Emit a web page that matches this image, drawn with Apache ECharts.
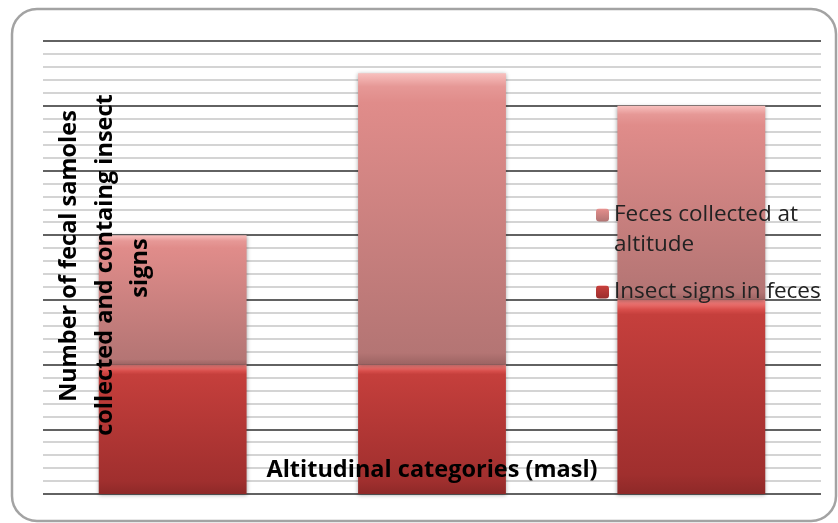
<!DOCTYPE html>
<html>
<head>
<meta charset="utf-8">
<script src="https://cdn.jsdelivr.net/npm/echarts@6/dist/echarts.min.js"></script>
<style>html,body{margin:0;padding:0;background:#fff}#c{width:838px;height:523px}</style>
</head>
<body>
<div id="c"></div>
<script>
var categories = ['Low altitude', 'Middle altitude', 'High altitude'];
var fecesCollected = [20, 32.5, 30];
var insectSigns = [10, 10, 15];
var seriesNames = ['Feces collected at altitude', 'Insect signs in feces'];
var yTitleLines = ['Number of fecal samoles', 'collected and containg insect', 'signs'];
var xTitle = 'Altitudinal categories (masl)';

var fecesRest = fecesCollected.map(function (v, i) { return v - insectSigns[i]; });

function grad(stops) {
  return new echarts.graphic.LinearGradient(0, 0, 0, 1, stops.map(function (s) { return { offset: s[0], color: s[1] }; }));
}

var titleFont = { fontFamily: 'Open Sans', fontWeight: 'bold', fontSize: 23.5, fill: '#000', align: 'center', verticalAlign: 'middle' };
function t(text, x, y, rot) {
  return { type: 'text', z: 100, x: x, y: y, rotation: rot || 0,
    style: Object.assign({ text: text }, titleFont) };
}

var chart = echarts.init(document.getElementById('c'), null, { renderer: 'canvas' });
var option = {
  animation: false,
  backgroundColor: '#fff',
  grid: { left: 43, right: 17, top: 41, bottom: 29 },
  legend: {
    orient: 'vertical',
    left: 591, top: 165,
    itemWidth: 13, itemHeight: 13, itemGap: 17,
    data: [seriesNames[0], seriesNames[1]],
    formatter: function (n) { return n === seriesNames[0] ? ' \nFeces collected at\naltitude' : n; },
    textStyle: { fontFamily: 'Open Sans', fontSize: 22.5, color: '#222', lineHeight: 30 }
  },
  xAxis: {
    type: 'category', data: categories,
    axisLine: { show: false }, axisTick: { show: false }, axisLabel: { show: false }
  },
  yAxis: {
    type: 'value', min: 0, max: 35, interval: 5,
    axisLine: { show: false }, axisTick: { show: false }, axisLabel: { show: false },
    splitLine: { show: true, lineStyle: { color: '#2e2e2e', width: 1.5 } },
    minorTick: { show: false, splitNumber: 5 },
    minorSplitLine: { show: true, lineStyle: { color: '#c6c6c6', width: 1.5 } }
  },
  series: [
    {
      name: seriesNames[1], type: 'bar', stack: 'a', data: insectSigns,
      barCategoryGap: '43%',
      itemStyle: {
        color: grad([[0, '#fa8a88'], [0.05, '#d84e4b'], [0.075, '#c53f3c'], [0.9, '#a02f2e'], [1, '#8e2928']]),
        shadowBlur: 4, shadowColor: 'rgba(0,0,0,0.35)', shadowOffsetY: 1
      }
    },
    {
      name: seriesNames[0], type: 'bar', stack: 'a', data: fecesRest,
      barCategoryGap: '43%',
      itemStyle: {
        color: grad([[0, '#f8c0be'], [0.045, '#e69896'], [0.1, '#e08c8a'], [0.96, '#b47574'], [1, '#9c6362']]),
        shadowBlur: 4, shadowColor: 'rgba(0,0,0,0.35)', shadowOffsetY: 1
      }
    }
  ],
  graphic: [
    {
      type: 'rect', z: -10, silent: true,
      shape: { x: 12, y: 9, width: 824, height: 512, r: 25 },
      style: { fill: 'none', stroke: '#a3a3a3', lineWidth: 2.5 }
    },
    t(yTitleLines[0], 69, 256, Math.PI / 2),
    t(yTitleLines[1], 105, 265, Math.PI / 2),
    t(yTitleLines[2], 140, 268, Math.PI / 2),
    t(xTitle, 432, 470, 0)
  ]
};
chart.setOption(option);
</script>
</body>
</html>
